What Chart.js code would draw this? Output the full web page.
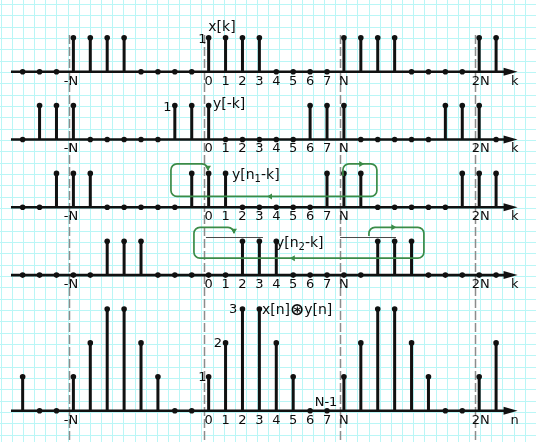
<!DOCTYPE html>
<html>
<head>
<meta charset="utf-8">
<title>Circular convolution</title>
<script src="https://cdn.jsdelivr.net/npm/chart.js@4.4.1/dist/chart.umd.min.js"></script>
<style>
  html, body { margin: 0; padding: 0; background: #fff; }
  #box { width: 536px; height: 442px; }
</style>
</head>
<body>
<div id="box"><canvas id="chart" width="536" height="442"></canvas></div>
<script>
// Period of the sequences
const N = 8;

// Sample index shown on every axis
const kAxis = [-11,-10,-9,-8,-7,-6,-5,-4,-3,-2,-1,0,1,2,3,4,5,6,7,8,9,10,11,12,13,14,15,16,17];

// x[k]
const xSeq     = [0,0,0,1,1,1,1,0,0,0,0,1,1,1,1,0,0,0,0,1,1,1,1,0,0,0,0,1,1];
// y[-k]
const yFlip    = [0,1,1,1,0,0,0,0,0,1,1,1,0,0,0,0,0,1,1,1,0,0,0,0,0,1,1,1,0];
// y[n1-k], n1 = 1
const yShift1  = [0,0,1,1,1,0,0,0,0,0,1,1,1,0,0,0,0,0,1,1,1,0,0,0,0,0,1,1,1];
// y[n2-k], n2 = 4
const yShift2  = [0,0,0,0,0,1,1,1,0,0,0,0,0,1,1,1,0,0,0,0,0,1,1,1,0,0,0,0,0];
// x[n] (*) y[n]
const circConv = [1,0,0,1,2,3,3,2,1,0,0,1,2,3,3,2,1,0,0,1,2,3,3,2,1,0,0,1,2];

// Tick labels under each axis
const tickPos  = [-8, 0, 1, 2, 3, 4, 5, 6, 7, 8, 16];
const tickText = ['-N','0','1','2','3','4','5','6','7','N','2N'];

// Rows, top to bottom: sequence and baseline level on the shared y scale
const rows = [
  { values: xSeq,     base: 10, axisName: 'k' },
  { values: yFlip,    base: 8,  axisName: 'k' },
  { values: yShift1,  base: 6,  axisName: 'k' },
  { values: yShift2,  base: 4,  axisName: 'k' },
  { values: circConv, base: 0,  axisName: 'n' }
];

const INK = '#111111';
const TEXT = '#0c0c0c';
const GREEN = '#3b8b47';
const FONT = '13px "DejaVu Sans", Verdana, sans-serif';
const NAMEFONT = '14px "DejaVu Sans", Verdana, sans-serif';
const SUBFONT = '10px "DejaVu Sans", Verdana, sans-serif';
const AXIS_START = -11.69, AXIS_END = 17.5, ARROW_TIP = 18.27;

const datasets = [];
rows.forEach(r => {
  datasets.push({
    type: 'line',
    data: [{ x: AXIS_START, y: r.base }, { x: AXIS_END, y: r.base }],
    borderColor: INK, borderWidth: 2.6, pointRadius: 0, tension: 0
  });
  const stems = [];
  kAxis.forEach((k, i) => {
    const v = r.values[i];
    if (v > 0) stems.push({ x: k, y: r.base }, { x: k, y: r.base + v }, { x: k, y: null });
  });
  datasets.push({
    type: 'line', data: stems, borderColor: INK, borderWidth: 3,
    borderCapStyle: 'butt', pointRadius: 0, spanGaps: false, tension: 0
  });
  datasets.push({
    type: 'scatter',
    data: kAxis.map((k, i) => ({ x: k, y: r.base + r.values[i] })),
    pointRadius: 2.8, pointBackgroundColor: INK, pointBorderWidth: 0, showLine: false
  });
});

function arrowHead(ctx, tx, ty, dir, len, half) {
  // dir: unit vector of the pointing direction
  const [dx, dy] = dir;
  ctx.beginPath();
  ctx.moveTo(tx, ty);
  ctx.lineTo(tx - dx * len - dy * half, ty - dy * len + dx * half);
  ctx.lineTo(tx - dx * len + dy * half, ty - dy * len - dx * half);
  ctx.closePath();
  ctx.fill();
}

function roundedPolyline(ctx, pts, r) {
  ctx.beginPath();
  ctx.moveTo(pts[0][0], pts[0][1]);
  for (let i = 1; i < pts.length - 1; i++) {
    ctx.arcTo(pts[i][0], pts[i][1], pts[i + 1][0], pts[i + 1][1], r);
  }
  const last = pts[pts.length - 1];
  ctx.lineTo(last[0], last[1]);
  ctx.stroke();
}

function drawParts(ctx, x, y, parts) {
  let cx = x;
  parts.forEach(p => {
    ctx.font = p.font || NAMEFONT;
    ctx.fillText(p.t, cx, y + (p.dy || 0));
    cx += ctx.measureText(p.t).width;
  });
}

const decorations = {
  id: 'decorations',
  beforeDraw(chart) {
    const { ctx, width, height } = chart;
    ctx.save();
    ctx.fillStyle = '#ffffff';
    ctx.fillRect(0, 0, width, height);
    ctx.fillStyle = '#baf6f6';
    for (let gx = 0.7; gx < width; gx += 11.15) ctx.fillRect(Math.round(gx), 0, 1, height);
    for (let gy = 4; gy < height; gy += 11.33) ctx.fillRect(0, Math.round(gy), width, 1);
    ctx.restore();
  },
  beforeDatasetsDraw(chart) {
    const { ctx, scales: { x, y } } = chart;
    ctx.save();
    ctx.strokeStyle = '#8c8c8c';
    ctx.lineWidth = 1.5;
    ctx.setLineDash([9, 3]);
    [-1, 0, 1, 2].forEach(m => {
      const px = Math.round(x.getPixelForValue(m * N - 0.25)) + 0.5;
      ctx.beginPath();
      ctx.moveTo(px, y.getPixelForValue(11.08));
      ctx.lineTo(px, chart.height);
      ctx.stroke();
    });
    ctx.restore();
  },
  afterDatasetsDraw(chart) {
    const { ctx, scales: { x, y } } = chart;
    const P = (k, v) => [x.getPixelForValue(k), y.getPixelForValue(v)];
    ctx.save();

    // axis arrowheads
    ctx.fillStyle = INK;
    rows.forEach(r => {
      const [tx, ty] = P(ARROW_TIP, r.base);
      arrowHead(ctx, tx, ty, [1, 0], 14, 4);
    });

    // wrap-around paths of the shifted sequences
    ctx.strokeStyle = GREEN;
    ctx.fillStyle = GREEN;
    ctx.lineWidth = 1.7;
    roundedPolyline(ctx, [P(7.94, 6.92), P(7.94, 7.28), P(9.95, 7.28), P(9.95, 6.32),
                          P(-2.23, 6.32), P(-2.23, 7.28), P(-0.04, 7.28), P(-0.04, 7.16)], 6);
    arrowHead(ctx, ...P(-0.04, 7.08), [0, 1], 5, 3);
    arrowHead(ctx, ...P(9.2, 7.28), [1, 0], 5, 3);
    arrowHead(ctx, ...P(3.45, 6.32), [-1, 0], 5, 3);

    roundedPolyline(ctx, [P(9.48, 5.15), P(9.48, 5.41), P(12.73, 5.41), P(12.73, 4.50),
                          P(-0.87, 4.50), P(-0.87, 5.41), P(1.50, 5.41), P(1.50, 5.30)], 6);
    arrowHead(ctx, ...P(1.50, 5.22), [0, 1], 5, 3);
    arrowHead(ctx, ...P(11.1, 5.41), [1, 0], 5, 3);
    arrowHead(ctx, ...P(4.8, 4.50), [-1, 0], 5, 3);

    // spans of y[n2-k] that wrap around
    ctx.strokeStyle = '#4a4a4a';
    ctx.lineWidth = 1;
    [[-0.16, 3.21], [7.77, 11.08]].forEach(([a, b]) => {
      const [xa, ya] = P(a, 5.13);
      const [xb] = P(b, 5.13);
      ctx.beginPath();
      ctx.moveTo(xa, Math.round(ya) + 0.5);
      ctx.lineTo(xb, Math.round(ya) + 0.5);
      ctx.stroke();
    });

    // tick labels
    ctx.fillStyle = TEXT;
    ctx.font = FONT;
    ctx.textBaseline = 'middle';
    rows.forEach(r => {
      const ty = y.getPixelForValue(r.base) + 9.5;
      tickPos.forEach((k, i) => {
        const t = tickText[i];
        const px = x.getPixelForValue(k);
        if (t[0] === '-') {
          const w = ctx.measureText(t).width, wn = ctx.measureText(t.slice(1)).width;
          ctx.textAlign = 'left';
          ctx.fillText(t, px - wn / 2 - (w - wn), ty);
        } else {
          ctx.textAlign = 'center';
          ctx.fillText(t, px + (t.length > 1 ? 1.5 : 0), ty);
        }
      });
      ctx.textAlign = 'center';
      ctx.fillText(r.axisName, x.getPixelForValue(18.1), ty);
    });

    // value labels beside stems
    ctx.textAlign = 'right';
    ctx.fillText('1', ...P(-0.12, 10.94));
    ctx.fillText('1', ...P(-2.19, 8.94));
    [0, 1, 2].forEach(k => {
      const v = circConv[kAxis.indexOf(k)];
      ctx.fillText(String(v), ...P(k - 0.12 - 0.09 * k, v - 0.01));
    });

    // sequence names
    ctx.textAlign = 'left';
    ctx.font = NAMEFONT;
    ctx.fillText('x[k]', ...P(-0.02, 11.32));
    ctx.fillText('y[-k]', ...P(0.25, 9.04));
    drawParts(ctx, ...P(1.38, 6.95), [{ t: 'y[n' }, { t: '1', font: SUBFONT, dy: 4 }, { t: '-k]' }]);
    drawParts(ctx, ...P(3.98, 4.93), [{ t: 'y[n' }, { t: '2', font: SUBFONT, dy: 4 }, { t: '-k]' }]);
    drawParts(ctx, ...P(3.15, 2.97), [{ t: 'x[n]' }, { t: '\u229B', font: 'bold 17px "DejaVu Sans", sans-serif', dy: 0.5 }, { t: 'y[n]' }]);
    ctx.font = FONT;
    ctx.textAlign = 'center';
    ctx.fillText('N-1', ...P(6.94, 0.23));
    ctx.restore();
  }
};

new Chart(document.getElementById('chart'), {
  type: 'scatter',
  data: { datasets },
  options: {
    responsive: false,
    animation: false,
    events: [],
    layout: { padding: 0, autoPadding: false },
    plugins: { legend: { display: false }, tooltip: { enabled: false } },
    scales: {
      x: { type: 'linear', min: -12.34, max: 19.36, display: false },
      y: { type: 'linear', min: -0.923, max: 12.115, display: false }
    }
  },
  plugins: [decorations]
});
</script>
</body>
</html>
